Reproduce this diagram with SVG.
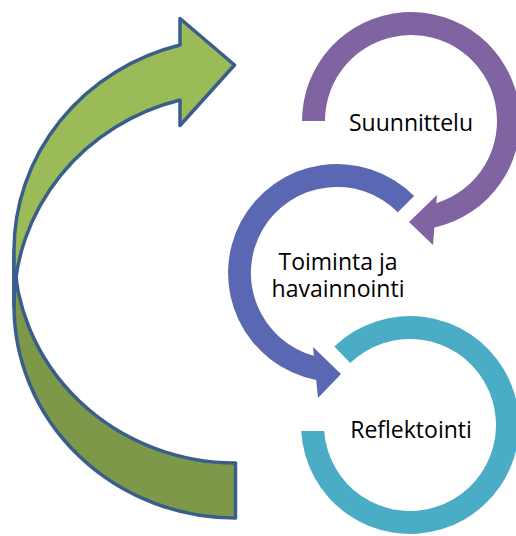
<svg xmlns="http://www.w3.org/2000/svg" width="516" height="536" viewBox="0 0 516 536">
  <style>
    .lbl { font-family: "Open Sans", "Noto Sans", "Liberation Sans", sans-serif; font-size: 23px; fill: #000000; text-anchor: middle; }
    .ga { stroke: #3A5E8C; stroke-width: 3.5; stroke-linejoin: round; }
    .front { fill: #9BBB59; }
    .back { fill: #7E9849; }
  </style>
  <rect width="516" height="536" fill="#FFFFFF"/>

  <g id="cycle-arrow">
    <path class="ga back" d="M 14,305.6 A 221.5 212.4 0 0 0 235.5,518 L 235.5,463 A 221.5 212.4 0 0 1 14,250.6 Z"/>
    <path class="ga front" d="M 14,305.6 L 14,250.6 A 221.5 212.4 0 0 1 180,45 L 180,18.5 L 234.5,65 L 180,125.5 L 180,100 A 221.5 212.4 0 0 0 14,305.6 Z"/>
  </g>

  <g id="suunnittelu">
    <path fill="#8064A2" d="M 302,121 A 109 109 0 1 1 434.4,227.5 L 433,245 L 409,222 L 437,195 L 436.3,203.2 A 86 86 0 1 0 325,121 Z"/>
    <text class="lbl" x="411" y="131">Suunnittelu</text>
  </g>

  <g id="toiminta">
    <path fill="#5A68B3" d="M 414.1,195.9 A 109 109 0 1 0 316.2,380 L 318,398 L 341,374 L 313,347 L 313.9,355.8 A 86 86 0 1 1 397.8,212.2 Z"/>
    <text class="lbl" x="338" y="270">Toiminta ja</text>
    <text class="lbl" x="338" y="297">havainnointi</text>
  </g>

  <g id="reflektointi">
    <path fill="#4BACC6" d="M 334.3,346.6 A 109 109 0 1 1 301.2,431 L 324.2,431 A 86 86 0 1 0 350.3,363.1 Z"/>
    <text class="lbl" x="411" y="438">Reflektointi</text>
  </g>

  <g id="connectors"/>
</svg>
